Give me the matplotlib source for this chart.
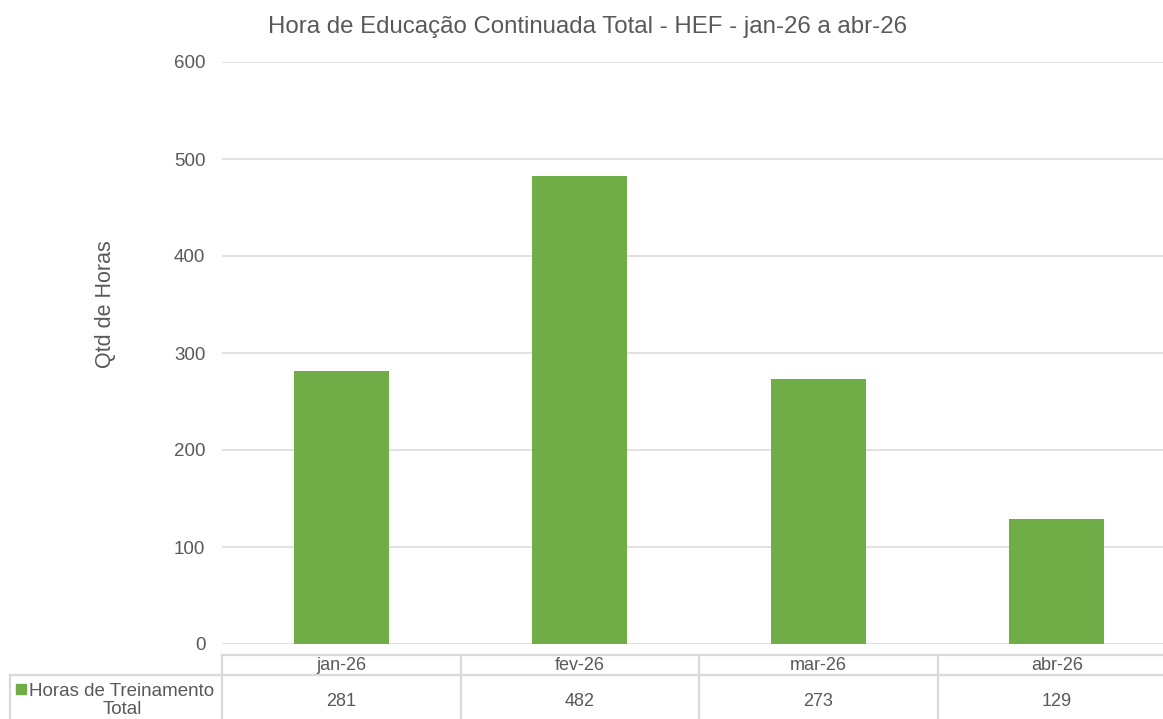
import matplotlib
matplotlib.use("Agg")
import matplotlib.pyplot as plt
from matplotlib.patches import Rectangle
from matplotlib.lines import Line2D
from matplotlib.transforms import blended_transform_factory

plt.rcParams['font.family'] = ['Liberation Sans', 'DejaVu Sans']

months = ["jan-26", "fev-26", "mar-26", "abr-26"]
hours = [281, 482, 273, 129]
series_name = "Horas de Treinamento\nTotal"
title = "Hora de Educação Continuada Total - HEF - jan-26 a abr-26"
y_label = "Qtd de Horas"
y_ticks = [0, 100, 200, 300, 400, 500, 600]

W, H = 1163, 719
GREEN = "#70AD47"
GRID = "#D9D9D9"
TEXT = "#595959"

fig = plt.figure(figsize=(W / 100, H / 100), dpi=100)

def fx(px):
    return px / W

def fy(py):
    return 1 - py / H

# plot area (the right edge runs slightly past the canvas)
left, right, top, bottom = 222, 1176, 62, 644
ax = fig.add_axes([fx(left), fy(bottom), fx(right - left), (bottom - top) / H])
x = list(range(len(months)))
ax.bar(x, hours, width=0.4, color=GREEN, zorder=3)
ax.set_xlim(-0.5, len(months) - 0.5)
ax.set_ylim(0, 600)
ax.set_yticks(y_ticks)
ax.set_yticklabels([str(v) for v in y_ticks], fontsize=13.5, color=TEXT)
ax.tick_params(axis='y', length=0, pad=12)
ax.set_xticks([])
ax.grid(axis='y', color=GRID, linewidth=1.1, zorder=0)
for s in ax.spines.values():
    s.set_visible(False)

fig.text(fx(106), fy(304), y_label, rotation=90, ha='center', va='center',
         fontsize=15.5, color=TEXT)
fig.text(fx(588), fy(27), title, ha='center', va='center', fontsize=17.3,
         color=TEXT)

# data table under the plot
lw = 1.6
fig.add_artist(Line2D([fx(222), fx(1176)], [fy(655), fy(655)], color=GRID, lw=lw))
fig.add_artist(Line2D([fx(10), fx(1176)], [fy(675), fy(675)], color=GRID, lw=lw))
fig.add_artist(Line2D([fx(10), fx(10)], [fy(675), fy(719)], color=GRID, lw=lw))
trans = blended_transform_factory(ax.transData, fig.transFigure)
for i in range(len(months) + 1):
    xb = i - 0.5
    fig.add_artist(Line2D([xb, xb], [fy(655), fy(719)], color=GRID, lw=lw,
                          transform=trans))

for i, (m, v) in enumerate(zip(months, hours)):
    fig.text(i, fy(666), m, transform=trans, ha='center', va='center',
             fontsize=13, color=TEXT)
    fig.text(i, fy(701), str(v), transform=trans, ha='center', va='center',
             fontsize=13, color=TEXT)

fig.add_artist(Rectangle((fx(16), fy(694)), fx(9.5), 10 / H, color=GREEN,
                         transform=fig.transFigure))
fig.text(fx(122), fy(700.5), series_name, ha='center', va='center',
         fontsize=13.5, color=TEXT, linespacing=1.08)

fig.savefig("out.png", dpi=100)
